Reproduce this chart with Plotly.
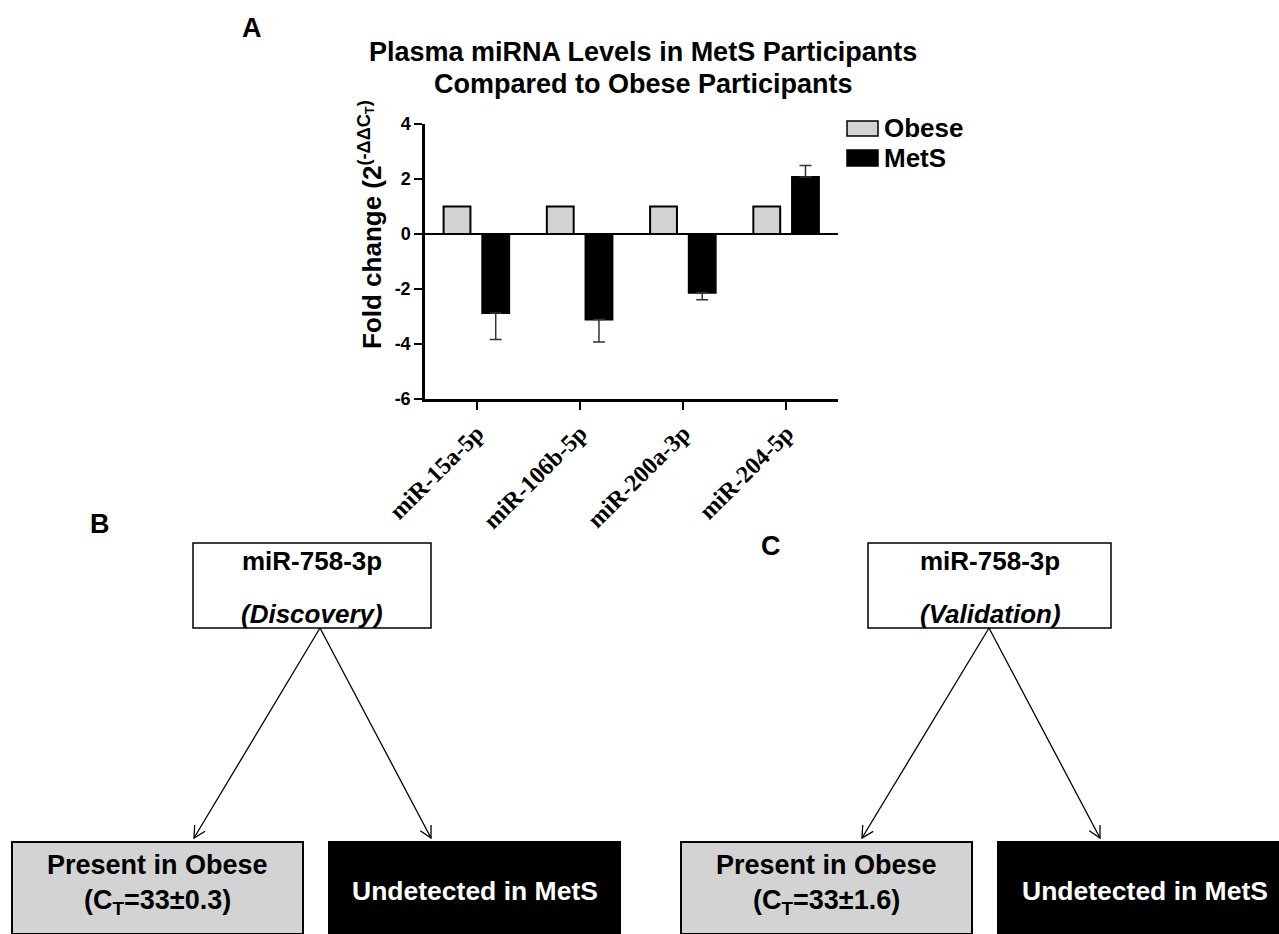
import math
import plotly.graph_objects as go

W, H = 1279, 934

# ---------------- data ----------------
categories = ["miR-15a-5p", "miR-106b-5p", "miR-200a-3p", "miR-204-5p"]
series_names = ["Obese", "MetS"]
obese_values = [1.0, 1.0, 1.0, 1.0]
mets_values = [-2.87, -3.11, -2.14, 2.07]
mets_errors = [0.97, 0.82, 0.25, 0.42]
y_tick_values = [-6, -4, -2, 0, 2, 4]
y_tick_labels = ["-6", "-4", "-2", "0", "2", "4"]

panel_letters = ["B", "C"]
panel_mirna = ["miR-758-3p", "miR-758-3p"]
panel_cohorts = ["Discovery", "Validation"]
panel_ct = ["33\u00b10.3", "33\u00b11.6"]

# ---------------- style ----------------
SANS = "Liberation Sans, Arial, Helvetica, sans-serif"
SERIF = "Liberation Serif, Times New Roman, serif"
OBESE_FILL = "#d3d3d3"


def px(x):
    return x / W


def py(y):
    return 1 - y / H


def font(size, color="black", weight="bold", family=SANS, style="normal"):
    return dict(family=family, size=size, color=color, weight=weight, style=style)


# one-sided error bars pointing away from zero
err_plus = [e if v > 0 else 0 for v, e in zip(mets_values, mets_errors)]
err_minus = [e if v < 0 else 0 for v, e in zip(mets_values, mets_errors)]

fig = go.Figure()
fig.add_trace(go.Bar(
    x=categories, y=obese_values, name=series_names[0],
    marker=dict(color=OBESE_FILL, line=dict(color="black", width=2)),
    width=0.26, offset=-0.32,
))
fig.add_trace(go.Bar(
    x=categories, y=mets_values, name=series_names[1],
    marker=dict(color="black", line=dict(color="black", width=2)),
    width=0.26, offset=0.055,
    error_y=dict(type="data", symmetric=False, array=err_plus, arrayminus=err_minus,
                 color="#333333", thickness=1.5, width=6),
))

x0_px, x1_px = 425, 838
ytop_px, ybot_px = 124, 399

fig.update_layout(
    template="none",
    width=W, height=H, autosize=False,
    margin=dict(l=0, r=0, t=0, b=0, pad=0, autoexpand=False),
    paper_bgcolor="white", plot_bgcolor="white",
    showlegend=False, barmode="overlay",
    xaxis=dict(
        domain=[px(x0_px), px(x1_px)], range=[-0.5, 3.5],
        type="category", categoryorder="array", categoryarray=categories,
        showline=True, linecolor="black", linewidth=2.5,
        ticks="outside", ticklen=8, tickwidth=2, tickcolor="black",
        tickangle=-45, tickfont=font(24, family=SERIF),
        showgrid=False, zeroline=False, automargin=False,
    ),
    yaxis=dict(
        domain=[py(ybot_px), py(ytop_px)], range=[-6, 4],
        tickvals=y_tick_values, ticktext=y_tick_labels,
        showline=True, linecolor="black", linewidth=2.5,
        ticks="outside", ticklen=8, tickwidth=2, tickcolor="black",
        tickfont=font(18),
        showgrid=False, zeroline=True, zerolinecolor="black", zerolinewidth=2,
        automargin=False,
    ),
)

ann = []
shapes = []


def text(x, y, t, size=26, color="black", weight="bold", style="normal",
         xanchor="center", angle=0):
    ann.append(dict(x=px(x), y=py(y), xref="paper", yref="paper", text=t,
                    showarrow=False, xanchor=xanchor, yanchor="middle",
                    textangle=angle, font=font(size, color, weight, style=style)))


def rect(x0, y0, x1, y1, fill, lw=1.5):
    shapes.append(dict(type="rect", xref="paper", yref="paper",
                       x0=px(x0), x1=px(x1), y0=py(y1), y1=py(y0),
                       fillcolor=fill, line=dict(color="black", width=lw),
                       layer="below"))


def arrow(tail, tip, head=13, spread=28):
    shapes.append(dict(type="line", xref="paper", yref="paper",
                       x0=px(tail[0]), y0=py(tail[1]), x1=px(tip[0]), y1=py(tip[1]),
                       line=dict(color="black", width=1.3)))
    ang = math.atan2(tail[1] - tip[1], tail[0] - tip[0])
    pts = []
    for s in (-1, 1):
        a = ang + s * math.radians(spread)
        pts.append((tip[0] + head * math.cos(a), tip[1] + head * math.sin(a)))
    path = "M{:.5f},{:.5f} L{:.5f},{:.5f} L{:.5f},{:.5f}".format(
        px(pts[0][0]), py(pts[0][1]), px(tip[0]), py(tip[1]), px(pts[1][0]), py(pts[1][1]))
    shapes.append(dict(type="path", xref="paper", yref="paper", path=path,
                       line=dict(color="black", width=1.3)))


# ---------- panel A ----------
text(252, 28, "A", size=27)
text(643, 52, "Plasma miRNA Levels in MetS Participants", size=27)
text(643, 84, "Compared to Obese Participants", size=27)
text(370, 225, "Fold change (2<sup>(-\u0394\u0394C<sub>T</sub>)</sup>", angle=-90)

# legend
rect(847, 121, 878, 136, OBESE_FILL, 1.5)
rect(847, 150, 878, 166, "black", 1.5)
text(882, 128, series_names[0], xanchor="left")
text(882, 158, series_names[1], xanchor="left")

# ---------- panels B and C ----------
panels = [
    dict(letter=(100, 524), box=(193, 543, 431, 628), cx=312, tail=(320, 628),
         tips=((194, 838), (431, 838)), left=(12, 303), right=(329, 620),
         lcx=157, rcx=475),
    dict(letter=(771, 546), box=(868, 543, 1111, 628), cx=990, tail=(989, 628),
         tips=((862, 838), (1100, 838)), left=(681, 972), right=(998, 1279),
         lcx=826, rcx=1145),
]

for i, p in enumerate(panels):
    text(p["letter"][0], p["letter"][1], panel_letters[i], size=27)
    bx0, by0, bx1, by1 = p["box"]
    rect(bx0, by0, bx1, by1, "white", 1.5)
    text(p["cx"], 561, panel_mirna[i])
    text(p["cx"], 614, "(" + panel_cohorts[i] + ")", style="italic")
    for tip in p["tips"]:
        arrow(p["tail"], tip)
    rect(p["left"][0], 842, p["left"][1], 934, OBESE_FILL, 2)
    rect(p["right"][0], 842, p["right"][1], 934, "black", 2)
    text(p["lcx"], 865, "Present in Obese", size=27)
    text(p["lcx"], 902, "(C<sub>T</sub>=" + panel_ct[i] + ")", size=27)
    text(p["rcx"], 891, "Undetected in MetS", color="white", size=26.5)

fig.update_layout(annotations=ann, shapes=shapes)

fig.write_html(
    "out.html",
    config={"displayModeBar": False},
    post_script="document.body.style.margin='0';document.body.style.overflow='hidden';",
)
